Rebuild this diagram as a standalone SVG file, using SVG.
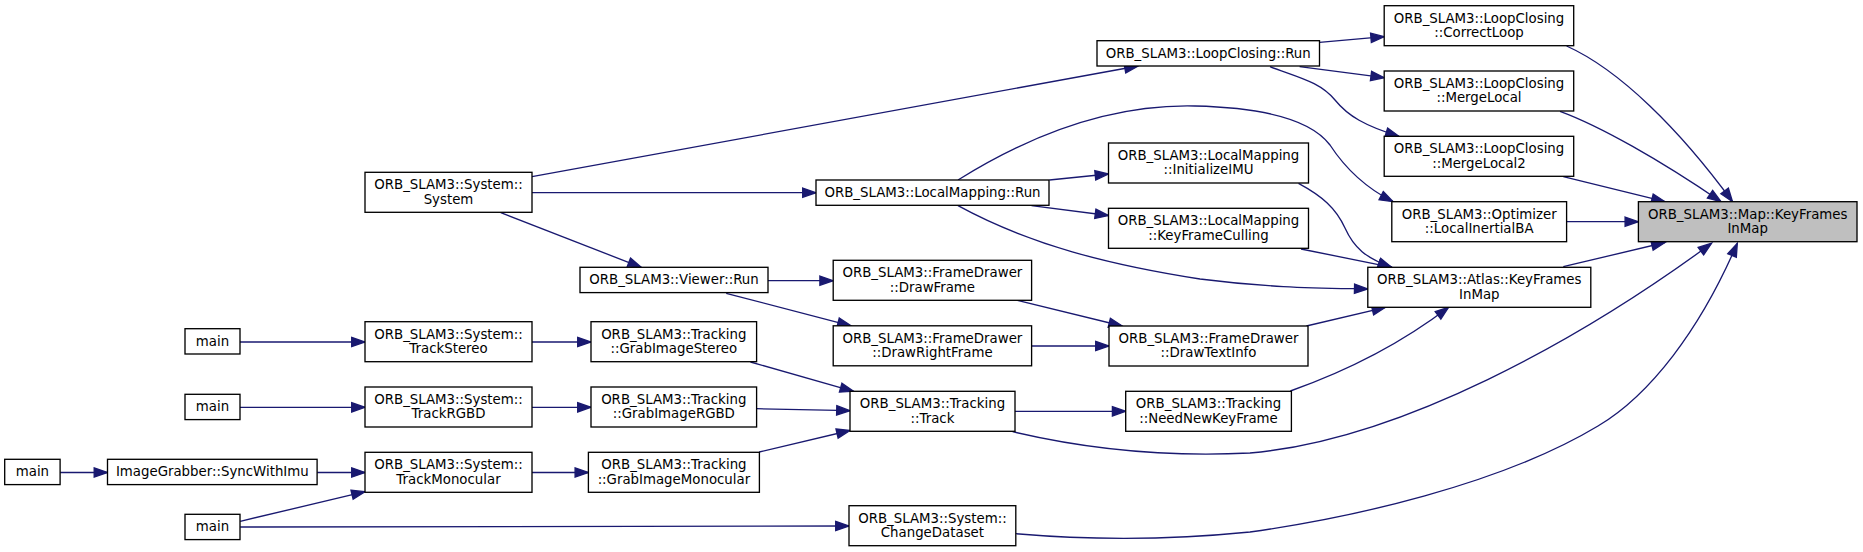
<svg xmlns="http://www.w3.org/2000/svg" width="1863" height="552" viewBox="0 0 1863 552">
<style>
.n rect{fill:#ffffff;stroke:#000000;stroke-width:1.33}
.n.focus rect{fill:#bfbfbf}
.n text{font-family:"DejaVu Sans",Verdana,sans-serif;font-size:13.33px;text-anchor:middle;fill:#000000}
#edges path{fill:none;stroke:#191970;stroke-width:1.33;marker-end:url(#arr)}
</style>
<defs>
<marker id="arr" markerUnits="userSpaceOnUse" markerWidth="15" markerHeight="11" refX="13.3" refY="4.67" orient="auto" viewBox="0 0 15 11" overflow="visible">
<path d="M0,0 L13.3,4.67 L0,9.33 z" fill="#191970" stroke="#191970" stroke-width="1.33" stroke-linejoin="miter"/>
</marker>
</defs>
<rect x="0" y="0" width="1863" height="552" fill="#ffffff"/>
<g id="edges">
<path d="M60.1,472.5 L107.5,472.5"/>
<path d="M317.1,472.5 L365,472.5"/>
<path d="M240.2,521.3 L365,491.7"/>
<path d="M240.2,527 L849,526"/>
<path d="M240,342 L365,342"/>
<path d="M240,407.3 L365,407.3"/>
<path d="M532,342 L591,342"/>
<path d="M532,407.3 L591,407.3"/>
<path d="M532,472.5 L588.4,472.5"/>
<path d="M750.5,362 L853.5,391.3"/>
<path d="M756.6,408.7 L850,410.7"/>
<path d="M759.2,452 L850,430.5"/>
<path d="M1015,411.3 L1125.7,411.3"/>
<path d="M1012.6,431.7 C1090,450 1170,457 1250,453 C1400,440 1580,340 1711.6,243.3"/>
<path d="M1015.8,533.7 C1090,540 1170,540 1250,532 C1350,518 1500,485 1598,426 C1650,395 1700,330 1737.3,243.3"/>
<path d="M1563.3,266.7 L1665,242.5"/>
<path d="M1566.6,221.7 L1638.4,221.7"/>
<path d="M1563.3,176.7 L1665,201.7"/>
<path d="M1560,111.3 C1600,126 1660,160 1721,201.7"/>
<path d="M1566.6,46 C1620,70 1680,130 1732.5,201.7"/>
<path d="M1319.5,42.3 L1384.2,36.7"/>
<path d="M1299.6,66.7 L1384.2,77.7"/>
<path d="M1270,66.7 C1300,78 1320,82 1335,100 C1348,116 1365,126 1399,136.3"/>
<path d="M958,180 C1030,135 1110,104 1195,106 C1280,108 1315,125 1330,145 C1345,168 1366,188 1393,201.7"/>
<path d="M1049.4,180 L1108.5,174"/>
<path d="M1031.5,205.7 L1108.5,215.5"/>
<path d="M958,205.7 C1030,245 1110,265 1200,279 C1270,288 1320,288 1367.8,289"/>
<path d="M1298.5,183.3 C1322,196 1336,208 1345,228 C1354,248 1366,258 1391.5,267.3"/>
<path d="M1301,249 L1392,267.3"/>
<path d="M1306.4,326 L1385.5,307.3"/>
<path d="M1290.4,391 C1330,377 1390,352 1448.6,307.3"/>
<path d="M1017.4,300.3 L1122.2,326"/>
<path d="M1031.6,346 L1109,346"/>
<path d="M767.7,280.7 L833.2,280.7"/>
<path d="M726.2,293.3 L851,325.8"/>
<path d="M500.8,212.7 L641.2,267.3"/>
<path d="M532,192.7 L816,192.7"/>
<path d="M532,176.7 L1138,66"/>
</g>
<g id="map" class="n focus"><rect x="1638.4" y="201.7" width="218.6" height="40"/><text x="1747.7" y="218.5">ORB_SLAM3::Map::KeyFrames</text><text x="1747.7" y="233.1">InMap</text></g>
<g id="correctLoop" class="n"><rect x="1384.2" y="5.7" width="189.5" height="40"/><text x="1479" y="22.5">ORB_SLAM3::LoopClosing</text><text x="1479" y="37.1">::CorrectLoop</text></g>
<g id="mergeLocal" class="n"><rect x="1384.2" y="71" width="189.5" height="40"/><text x="1479" y="87.8">ORB_SLAM3::LoopClosing</text><text x="1479" y="102.4">::MergeLocal</text></g>
<g id="mergeLocal2" class="n"><rect x="1384.2" y="136.3" width="189.5" height="40"/><text x="1479" y="153.1">ORB_SLAM3::LoopClosing</text><text x="1479" y="167.7">::MergeLocal2</text></g>
<g id="localInertialBA" class="n"><rect x="1391.8" y="201.7" width="174.8" height="40"/><text x="1479.2" y="218.5">ORB_SLAM3::Optimizer</text><text x="1479.2" y="233.1">::LocalInertialBA</text></g>
<g id="atlasKeyFramesInMap" class="n"><rect x="1367.8" y="267.3" width="223" height="40"/><text x="1479.3" y="284.1">ORB_SLAM3::Atlas::KeyFrames</text><text x="1479.3" y="298.7">InMap</text></g>
<g id="loopClosingRun" class="n"><rect x="1097" y="40.7" width="222.5" height="25.3"/><text x="1208.2" y="57.7">ORB_SLAM3::LoopClosing::Run</text></g>
<g id="initializeIMU" class="n"><rect x="1108.5" y="143" width="200" height="40"/><text x="1208.5" y="159.8">ORB_SLAM3::LocalMapping</text><text x="1208.5" y="174.4">::InitializeIMU</text></g>
<g id="keyFrameCulling" class="n"><rect x="1108.5" y="208.3" width="200" height="40"/><text x="1208.5" y="225.1">ORB_SLAM3::LocalMapping</text><text x="1208.5" y="239.7">::KeyFrameCulling</text></g>
<g id="drawTextInfo" class="n"><rect x="1109" y="326" width="199" height="40"/><text x="1208.5" y="342.8">ORB_SLAM3::FrameDrawer</text><text x="1208.5" y="357.4">::DrawTextInfo</text></g>
<g id="needNewKeyFrame" class="n"><rect x="1125.7" y="391.3" width="165.7" height="40"/><text x="1208.5" y="408.1">ORB_SLAM3::Tracking</text><text x="1208.5" y="422.7">::NeedNewKeyFrame</text></g>
<g id="localMappingRun" class="n"><rect x="816" y="180" width="233" height="25.3"/><text x="932.5" y="197">ORB_SLAM3::LocalMapping::Run</text></g>
<g id="drawFrame" class="n"><rect x="833.2" y="260.3" width="198.4" height="40"/><text x="932.4" y="277.1">ORB_SLAM3::FrameDrawer</text><text x="932.4" y="291.7">::DrawFrame</text></g>
<g id="drawRightFrame" class="n"><rect x="833.2" y="325.8" width="198.4" height="40"/><text x="932.4" y="342.6">ORB_SLAM3::FrameDrawer</text><text x="932.4" y="357.2">::DrawRightFrame</text></g>
<g id="track" class="n"><rect x="850" y="391.3" width="165" height="40"/><text x="932.5" y="408.1">ORB_SLAM3::Tracking</text><text x="932.5" y="422.7">::Track</text></g>
<g id="changeDataset" class="n"><rect x="849" y="505.7" width="166.8" height="40"/><text x="932.4" y="522.5">ORB_SLAM3::System::</text><text x="932.4" y="537.1">ChangeDataset</text></g>
<g id="viewerRun" class="n"><rect x="580" y="267.3" width="188" height="25.3"/><text x="674" y="284.3">ORB_SLAM3::Viewer::Run</text></g>
<g id="grabImageStereo" class="n"><rect x="591" y="321.7" width="165.6" height="40"/><text x="673.8" y="338.5">ORB_SLAM3::Tracking</text><text x="673.8" y="353.1">::GrabImageStereo</text></g>
<g id="grabImageRGBD" class="n"><rect x="591" y="387" width="165.6" height="40"/><text x="673.8" y="403.8">ORB_SLAM3::Tracking</text><text x="673.8" y="418.4">::GrabImageRGBD</text></g>
<g id="grabImageMonocular" class="n"><rect x="588.4" y="452.3" width="171" height="40"/><text x="673.9" y="469.1">ORB_SLAM3::Tracking</text><text x="673.9" y="483.7">::GrabImageMonocular</text></g>
<g id="systemSystem" class="n"><rect x="365" y="172.3" width="167" height="40"/><text x="448.5" y="189.1">ORB_SLAM3::System::</text><text x="448.5" y="203.7">System</text></g>
<g id="trackStereo" class="n"><rect x="365" y="321.7" width="167" height="40"/><text x="448.5" y="338.5">ORB_SLAM3::System::</text><text x="448.5" y="353.1">TrackStereo</text></g>
<g id="trackRGBD" class="n"><rect x="365" y="387" width="167" height="40"/><text x="448.5" y="403.8">ORB_SLAM3::System::</text><text x="448.5" y="418.4">TrackRGBD</text></g>
<g id="trackMonocular" class="n"><rect x="365" y="452.3" width="167" height="40"/><text x="448.5" y="469.1">ORB_SLAM3::System::</text><text x="448.5" y="483.7">TrackMonocular</text></g>
<g id="mainStereo" class="n"><rect x="185" y="328.7" width="55" height="25.3"/><text x="212.5" y="345.7">main</text></g>
<g id="mainRGBD" class="n"><rect x="185" y="394.3" width="55" height="25.3"/><text x="212.5" y="411.3">main</text></g>
<g id="syncWithImu" class="n"><rect x="107.5" y="459.3" width="209.6" height="25.3"/><text x="212.3" y="476.3">ImageGrabber::SyncWithImu</text></g>
<g id="mainMonocular" class="n"><rect x="185" y="514.3" width="55" height="25.3"/><text x="212.5" y="531.3">main</text></g>
<g id="mainImu" class="n"><rect x="4.7" y="459.3" width="55.4" height="25.3"/><text x="32.4" y="476.3">main</text></g>
</svg>
